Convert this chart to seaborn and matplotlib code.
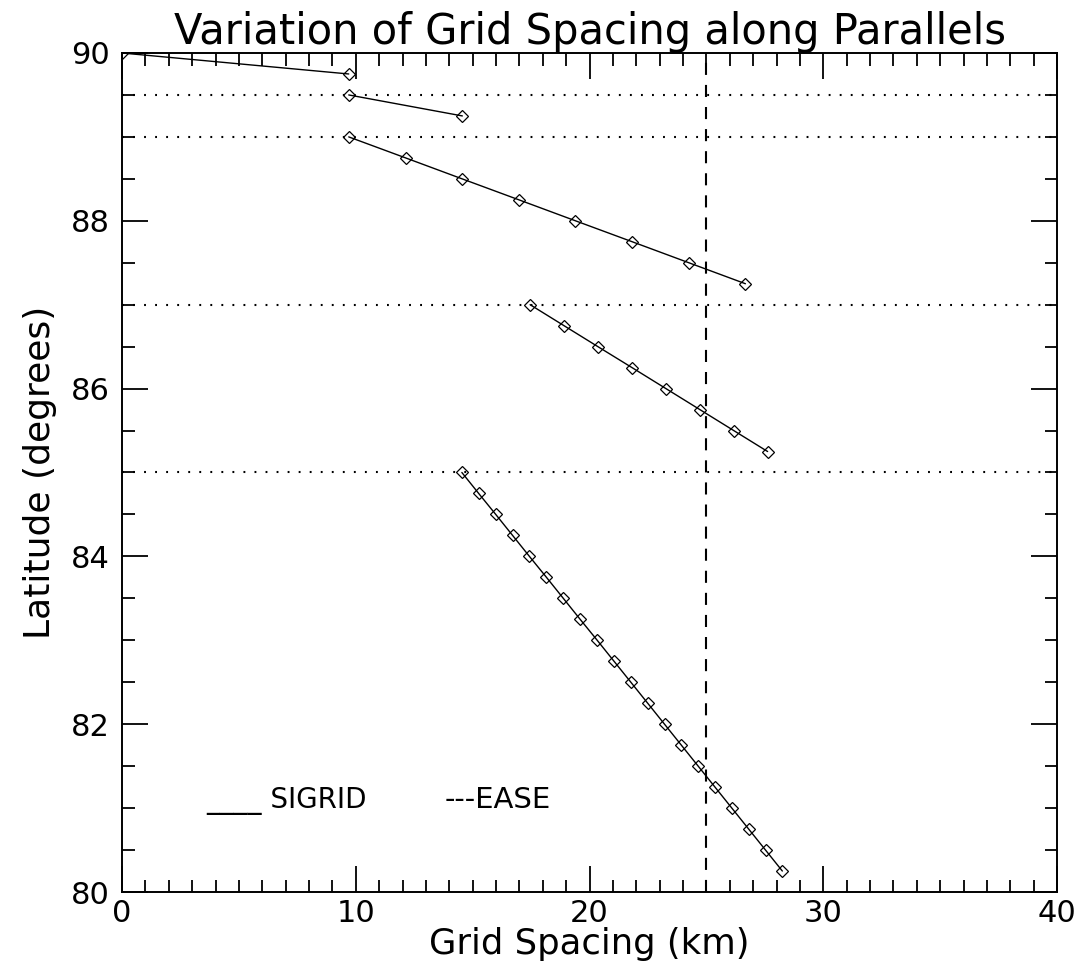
import pandas as pd
import seaborn as sns
import matplotlib.pyplot as plt
from matplotlib.ticker import MultipleLocator

# Grid spacing (km) along each parallel, one list per latitude band
band1_lat = [90.00, 89.75]
band1_km = [0.00, 9.70]

band2_lat = [89.50, 89.25]
band2_km = [9.70, 14.56]

band3_lat = [89.00, 88.75, 88.50, 88.25, 88.00, 87.75, 87.50, 87.25]
band3_km = [9.70, 12.13, 14.55, 16.98, 19.40, 21.83, 24.25, 26.67]

band4_lat = [87.00, 86.75, 86.50, 86.25, 86.00, 85.75, 85.50, 85.25]
band4_km = [17.46, 18.91, 20.36, 21.82, 23.27, 24.72, 26.17, 27.62]

band5_lat = [85.00, 84.75, 84.50, 84.25, 84.00, 83.75, 83.50, 83.25, 83.00, 82.75,
             82.50, 82.25, 82.00, 81.75, 81.50, 81.25, 81.00, 80.75, 80.50, 80.25]
band5_km = [14.54, 15.26, 15.99, 16.71, 17.43, 18.16, 18.88, 19.60, 20.33, 21.05,
            21.77, 22.49, 23.21, 23.93, 24.65, 25.37, 26.09, 26.81, 27.53, 28.25]

# band boundaries (dotted) and the EASE grid spacing (dashed)
boundaries = [89.5, 89.0, 87.0, 85.0]
ease_km = 25.0

bands = [(band1_lat, band1_km), (band2_lat, band2_km), (band3_lat, band3_km),
         (band4_lat, band4_km), (band5_lat, band5_km)]
frames = []
for i, (lat, km) in enumerate(bands):
    frames.append(pd.DataFrame({'band': i, 'lat': lat, 'km': km}))
df = pd.concat(frames, ignore_index=True)

sns.set_style('ticks')
plt.rcParams['font.family'] = ['DejaVu Sans']
plt.rcParams['text.color'] = 'black'
plt.rcParams['axes.labelcolor'] = 'black'

fig = plt.figure(figsize=(10.83, 9.64), dpi=100, facecolor='white')
ax = fig.add_axes([122 / 1083, 1 - 892 / 964, 935 / 1083, 839 / 964])

sns.lineplot(data=df, x='km', y='lat', units='band', estimator=None, sort=False,
             color='black', linewidth=1.0, marker='D', markersize=6.5,
             markerfacecolor='none', markeredgecolor='black', markeredgewidth=0.9,
             ax=ax, legend=False)

for b in boundaries:
    ax.axhline(b, color='black', linewidth=1.5, linestyle=(0, (0.9, 4.4)))
ax.axvline(ease_km, color='black', linewidth=1.5, linestyle=(0, (5.8, 4.8)))

ax.set_xlim(0, 40)
ax.set_ylim(80, 90)
ax.xaxis.set_major_locator(MultipleLocator(10))
ax.xaxis.set_minor_locator(MultipleLocator(1))
ax.yaxis.set_major_locator(MultipleLocator(2))
ax.yaxis.set_minor_locator(MultipleLocator(0.5))
ax.tick_params(which='both', direction='in', top=True, right=True, width=1.3, colors='black')
ax.tick_params(which='major', length=19)
ax.tick_params(which='minor', length=9)
ax.tick_params(axis='x', which='major', pad=5, labelsize=22)
ax.tick_params(axis='y', which='major', pad=9, labelsize=22)
for s in ax.spines.values():
    s.set_linewidth(1.4)
    s.set_color('black')

ax.set_title('Variation of Grid Spacing along Parallels', fontsize=30, pad=1)
ax.set_xlabel('Grid Spacing (km)', fontsize=25.5, labelpad=-1)
ax.set_ylabel('Latitude (degrees)', fontsize=26, labelpad=10)

# legend written as text, like the original
ax.text(3.6, 81.0, '____ SIGRID', fontsize=20, va='baseline')
ax.text(13.8, 81.0, '---EASE', fontsize=21, va='baseline')

plt.savefig('out.png', dpi=100, facecolor='white')
